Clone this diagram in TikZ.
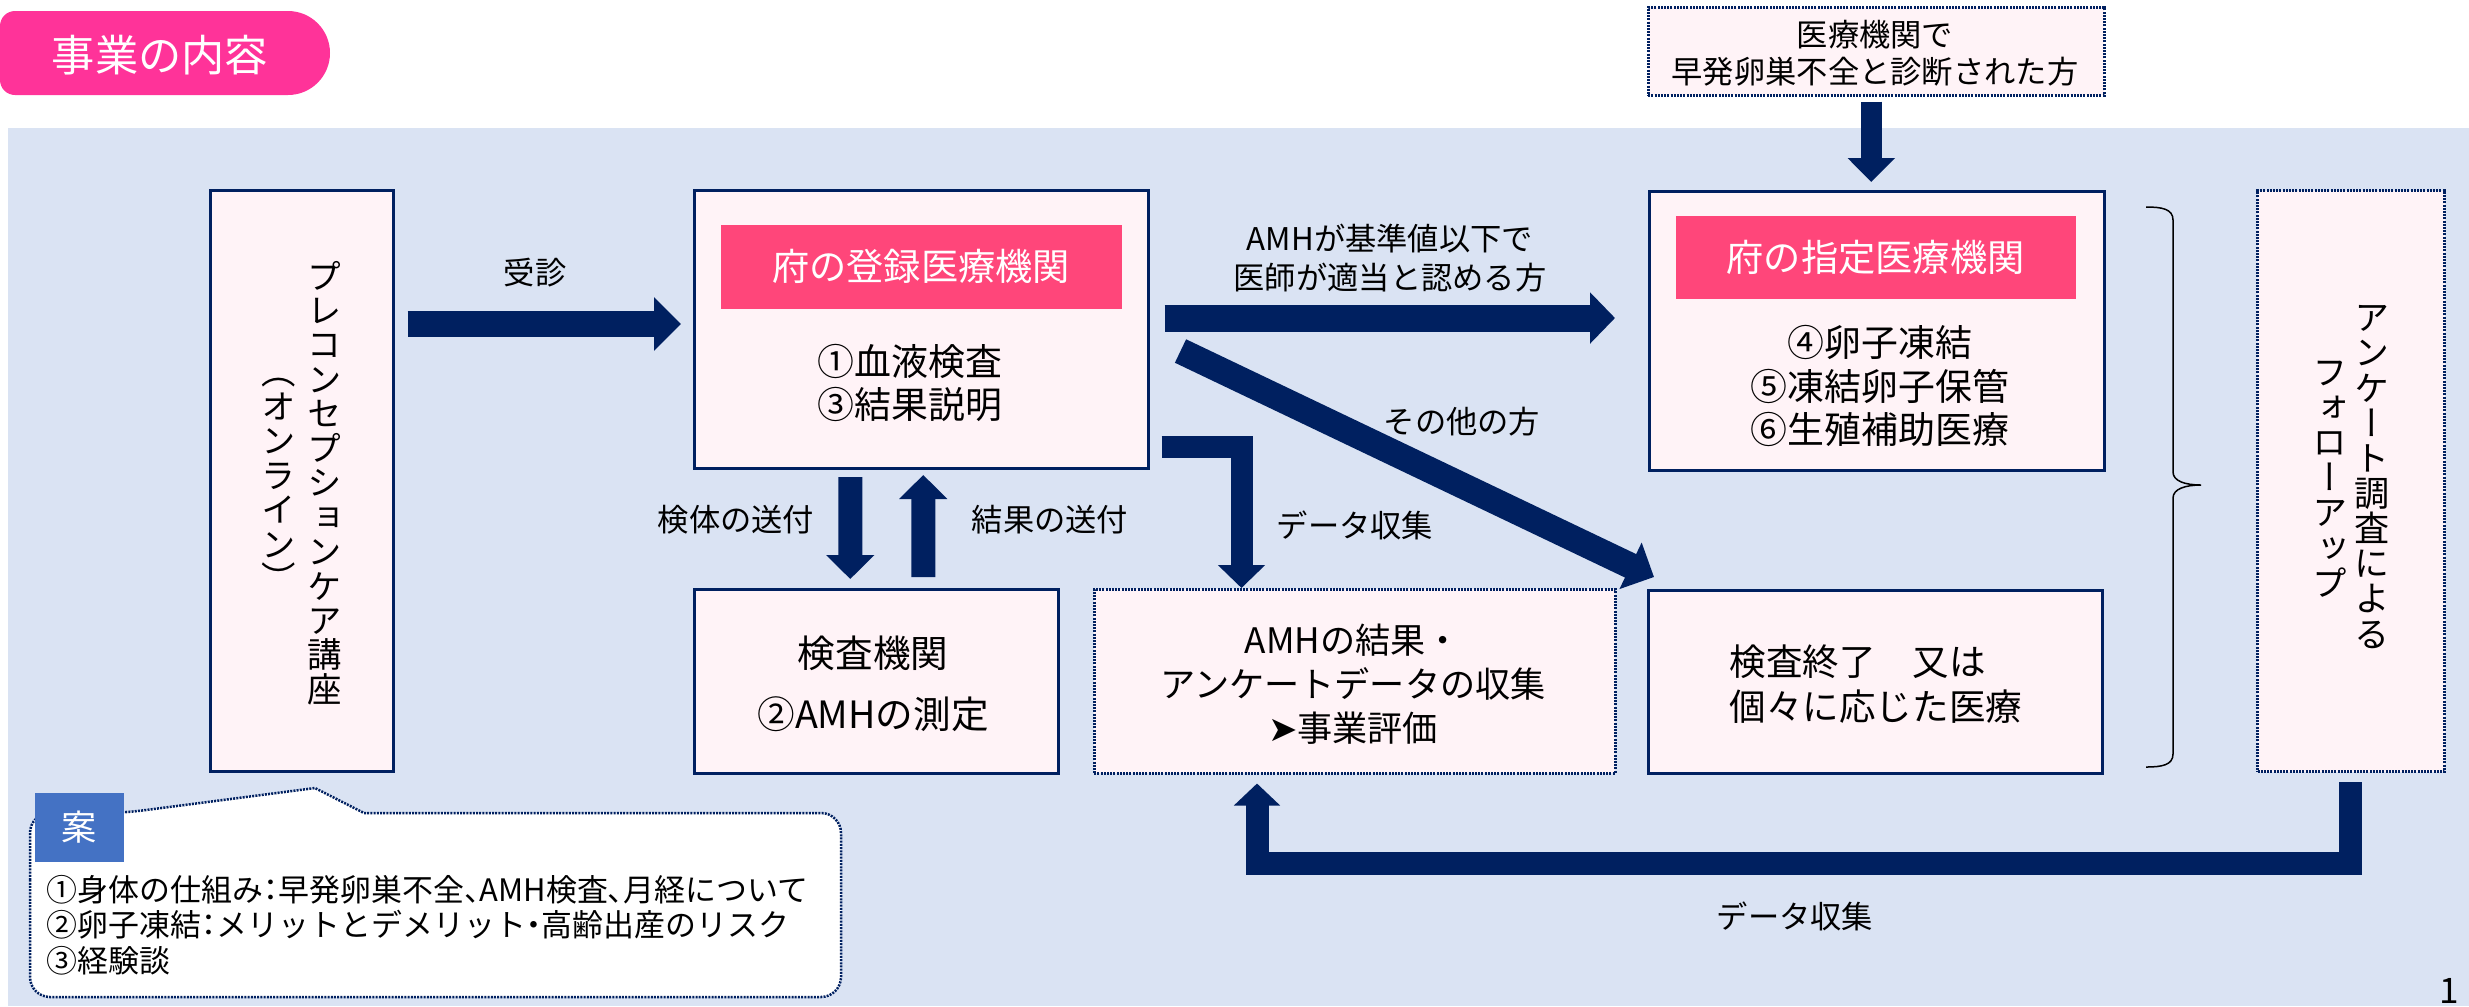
\documentclass[tikz,border=0pt]{standalone}
\usepackage{fontspec}
\setmainfont{Noto Sans CJK JP}
\newfontfamily\vjp[RawFeature=+vert]{Noto Sans CJK JP}
\newfontfamily\jph[RawFeature=+halt]{Noto Sans CJK JP}
\newfontfamily\dejavu{DejaVu Sans}
\usetikzlibrary{arrows.meta,calc}
\definecolor{bgblue}{HTML}{DAE3F3}
\definecolor{boxfill}{HTML}{FFF3F7}
\definecolor{navy}{HTML}{002060}
\definecolor{hdrpink}{HTML}{FF467A}
\definecolor{titlepink}{HTML}{FF3399}
\definecolor{anblue}{HTML}{4472C4}
\newcommand\myfs[2]{\fontsize{#1pt}{#2pt}\selectfont}
\begin{document}
\begin{tikzpicture}[x=0.1mm,y=-0.1mm,
  box/.style={draw=navy, line width=0.25mm, fill=boxfill, inner sep=0pt, anchor=north west},
  dbox/.style={draw=navy, line width=0.25mm, dash pattern=on 0.2mm off 0.12mm, fill=boxfill, inner sep=0pt, anchor=north west},
  hdr/.style={fill=hdrpink, inner sep=0pt, anchor=north west, text=white, font=\myfs{10.6}{12}},
  txt/.style={inner sep=0pt, align=center},
  lbl/.style={inner sep=0pt, align=center, font=\myfs{8.9}{11.3}},
  vt/.style={inner sep=0pt, align=center},
  fat/.style n args={3}{draw=navy, line width=#1mm, -{Triangle[length=#3mm,width=#2mm]}},
]
\useasboundingbox (0,0) rectangle (2469,1006);
% background
\fill[bgblue] (8,128) rectangle (2469,1006);
% title pill
\fill[titlepink] (0,26) arc[start angle=180,end angle=90,radius=1.5mm] -- (288,11)
  arc[start angle=90,end angle=-90,radius=4.2mm] -- (15,95)
  arc[start angle=270,end angle=180,radius=1.5mm] -- cycle;
\node[inner sep=0pt, text=white, font=\myfs{12.3}{14}] (title) at (160,55) {事業の内容};

% top dotted box
\node[dbox, minimum width=45.6mm, minimum height=8.8mm] (topb) at (1647,6) {};
\node[txt, font=\myfs{8.9}{10.5}] (topbt) at (1875,53) {医療機関で\\早発卵巣不全と診断された方};

% preconception box
\node[box, minimum width=18.3mm, minimum height=58.1mm] (pre) at (209,189) {};
\node[vt, font=\vjp\myfs{9.8}{9.8}] (preA) at (325,483) {プ\\レ\\コ\\ン\\セ\\プ\\シ\\ョ\\ン\\ケ\\ア\\講\\座};
\node[vt, font=\vjp\myfs{9.8}{9.8}] (preB) at (279,485) {（\\オ\\ン\\ラ\\イ\\ン\\）};

% registered institution
\node[box, minimum width=45.4mm, minimum height=27.8mm] (reg) at (693,189) {};
\node[hdr, minimum width=40.1mm, minimum height=8.4mm] (regh) at (720,224) {府の登録医療機関};
\node[txt, font=\myfs{10.5}{12.2}] (regt) at (910,383) {①血液検査\\③結果説明};

% lab
\node[box, minimum width=36.4mm, minimum height=18.4mm] (lab) at (693,588) {};
\node[txt, font=\myfs{10.7}{12.4}] (labt) at (873,684) {検査機関\\[4.9pt]②AMHの測定};

% data box
\node[dbox, minimum width=52.1mm, minimum height=18.4mm] (data) at (1093,588) {};
\node[txt, font=\myfs{10}{12.5}] (datat) at (1353,684) {AMHの結果・\\アンケートデータの収集\\{\dejavu ➤}事業評価};

% designated institution
\node[box, minimum width=45.5mm, minimum height=27.9mm] (des) at (1648,190) {};
\node[hdr, minimum width=40.0mm, minimum height=8.3mm] (desh) at (1675,215) {府の指定医療機関};
\node[txt, font=\myfs{10.5}{12.5}] (dest) at (1880,386) {④卵子凍結\\⑤凍結卵子保管\\⑥生殖補助医療};

% done box
\node[box, minimum width=45.4mm, minimum height=18.3mm] (done) at (1647,589) {};
\node[txt, align=left, anchor=west, font=\myfs{10.4}{12.8}] (donet) at (1729,684) {検査終了　又は\\個々に応じた医療};

% follow-up box
\node[dbox, line width=0.3mm, minimum width=18.7mm, minimum height=58.1mm] (fol) at (2256,189) {};
\node[vt, font=\vjp\myfs{10}{10}] (folA) at (2372,477) {ア\\ン\\ケ\\ー\\ト\\調\\査\\に\\よ\\る};
\node[vt, font=\vjp\myfs{10}{10}] (folB) at (2330,479) {フ\\ォ\\ロ\\ー\\ア\\ッ\\プ};

% brace
\draw[line width=0.15mm] (2146,207) .. controls (2162,207) and (2173,209) .. (2173,220) -- (2173,472)
  .. controls (2173,481) and (2185,485) .. (2201,485)
  .. controls (2185,485) and (2173,489) .. (2173,498) -- (2173,754)
  .. controls (2173,765) and (2162,767) .. (2146,767);

% arrows
\draw[fat={2.6}{5.2}{2.7}] ($(pre.north east)+(13,135)$) -- ($(reg.north west)+(-12,135)$);
\draw[fat={2.7}{5.0}{2.5}] ($(reg.north east)+(15,129)$) -- ($(des.north west)+(-33,128)$);
\draw[fat={2.6}{5.0}{2.6}] ($(reg.north east)+(31,162)$) -- ($(done.north west)+(7,-12)$);
\draw[fat={2.2}{4.6}{2.3}] ($(reg.south east)+(12,-23)$) -| ($(data.north west)+(148.5,0)$);
\draw[fat={2.4}{4.7}{2.4}] ($(reg.south)+(-71,7.5)$) -- ($(lab.north)+(-26,-9)$);
\draw[fat={2.4}{4.7}{2.4}] ($(lab.north)+(47,-11)$) -- ($(reg.south)+(2,5.5)$);
\draw[fat={2.05}{4.6}{2.4}] ($(topb.south)+(-5,5)$) -- ($(des.north)+(-5.5,-8)$);
\draw[fat={2.3}{4.5}{2.2}] ($(fol.south)+(-1,9)$) |- ($(data.south west)+(164,88.5)$) -- ($(data.south west)+(164,9)$);

% labels
\node[lbl] (l1) at (535,273) {受診};
\node[lbl] (l2) at (1390,258) {AMHが基準値以下で\\医師が適当と認める方};
\node[lbl] (l3) at (1462,422) {その他の方};
\node[lbl] (l4) at (1355,525) {データ収集};
\node[lbl] (l5) at (736,520) {検体の送付};
\node[lbl] (l6) at (1050,520) {結果の送付};
\node[lbl] (l7) at (1795,916) {データ収集};

% callout
\draw[navy, fill=white, line width=0.25mm, dash pattern=on 0.2mm off 0.12mm]
  (30,900) [rounded corners=2mm] -- (30,813) -- (123,813) [sharp corners] -- (315,788) -- (364,813)
  [rounded corners=2mm] -- (841,813) -- (841,997) -- (30,997) -- cycle;
\node[fill=anblue, inner sep=0pt, anchor=north west, minimum width=8.9mm, minimum height=6.9mm,
  text=white, font=\myfs{10}{12}] (an) at (34,792) {案};
\node[inner sep=0pt, align=left, anchor=west, font=\jph\myfs{8.8}{10.1}] (ant) at (46,925)
  {①身体の仕組み：早発卵巣不全、AMH検査、月経について\\②卵子凍結：メリットとデメリット・高齢出産のリスク\\③経験談};

% page number
\node[inner sep=0pt, anchor=north, font=\myfs{10}{12}] (pg) at (2449,978) {1};
\end{tikzpicture}
\end{document}
